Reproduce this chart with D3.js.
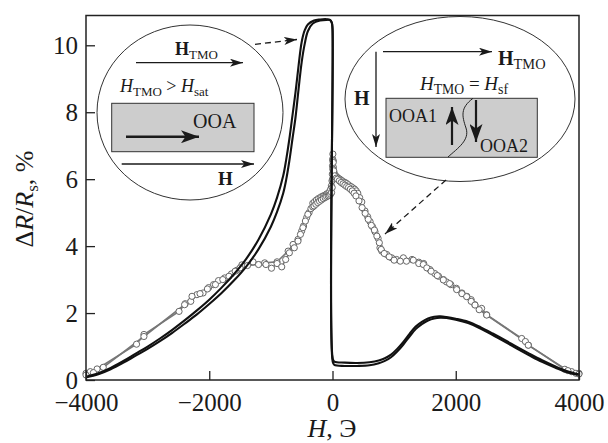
<!DOCTYPE html>
<html lang="ru">
<head>
<meta charset="UTF-8">
<title>dR/Rs vs H</title>
<script src="https://d3js.org/d3.v7.min.js"></script>
<style>
  body { margin: 0; background: #fff; }
  svg text { font-family: "Liberation Serif", "Times New Roman", serif; fill: #1a1a1a; }
</style>
</head>
<body>
<svg width="608" height="443"></svg>
<script>
// ---- data (H in Oe, dR/Rs in %) ----
const xTicks = [-4000, -2000, 0, 2000, 4000];
const yTicks = [0, 2, 4, 6, 8, 10];

// black curves: two nearly coincident sweeps
const lineA = [[-4000,0.1],[-3800,0.2],[-3600,0.36],[-3400,0.56],[-3200,0.78],[-3000,1.0],[-2800,1.24],
  [-2600,1.5],[-2400,1.78],[-2200,2.08],[-2000,2.4],[-1800,2.76],[-1600,3.16],[-1400,3.62],[-1200,4.2],
  [-1000,4.95],[-900,5.45],[-800,6.1],[-750,6.6],[-700,7.2],[-650,7.9],[-600,8.6],[-550,9.4],[-500,10.1],
  [-450,10.45],[-400,10.62],[-300,10.74],[-200,10.77],[-100,10.78],[-40,10.76],[-12,10.68],[0,10.5],
  [3,0.65],[30,0.55],[200,0.52],[400,0.51],[600,0.53],[750,0.58],[850,0.65],[950,0.76],[1050,0.93],
  [1150,1.14],[1250,1.38],[1350,1.6],[1450,1.74],[1550,1.84],[1650,1.89],[1750,1.9],[1850,1.88],
  [2000,1.83],[2200,1.74],[2400,1.58],[2600,1.39],[2800,1.19],[3000,0.98],[3200,0.78],[3400,0.59],
  [3600,0.42],[3800,0.27],[4000,0.17]];
const lineB = [[-4000,0.08],[-3800,0.17],[-3600,0.32],[-3400,0.51],[-3200,0.72],[-3000,0.93],[-2800,1.16],
  [-2600,1.41],[-2400,1.68],[-2200,1.96],[-2000,2.27],[-1800,2.6],[-1600,2.97],[-1400,3.39],[-1200,3.91],
  [-1000,4.58],[-900,5.02],[-800,5.58],[-750,6.0],[-700,6.55],[-650,7.2],[-600,7.85],[-550,8.7],[-500,9.5],
  [-450,10.05],[-400,10.42],[-320,10.65],[-200,10.74],[-100,10.76],[-40,10.75],[-12,10.68],[0,10.5],
  [3,0.55],[30,0.45],[200,0.42],[400,0.42],[600,0.44],[750,0.5],[850,0.57],[950,0.68],[1050,0.85],
  [1150,1.06],[1250,1.3],[1350,1.52],[1450,1.67],[1550,1.78],[1650,1.84],[1750,1.86],[1850,1.85],
  [2000,1.8],[2200,1.7],[2400,1.54],[2600,1.34],[2800,1.14],[3000,0.93],[3200,0.73],[3400,0.54],
  [3600,0.38],[3800,0.24],[4000,0.15]];

// open-circle curves: two sweeps
const dotsA = [[-4000,0.2],[-3930,0.25],[-3820,0.33],[-3180,1.07],[-3060,1.36],[-2490,2.05],[-2390,2.28],
  [-2300,2.35],[-2200,2.55],[-2100,2.6],[-2010,2.76],[-1930,2.85],[-1850,2.97],[-1750,3.05],[-1640,3.17],
  [-1550,3.28],[-1470,3.44],[-1290,3.53],[-1100,3.5],[-900,3.53],[-720,3.85],[-640,4.05],[-560,4.2],
  [-500,4.45],[-470,4.6],[-420,4.85],[-380,5.0],[-320,5.28],[-290,5.33],[-260,5.38],[-230,5.42],
  [-200,5.45],[-175,5.48],[-150,5.5],[-125,5.52],[-100,5.55],[-80,5.57],[-60,5.6],[-45,5.63],[-30,5.7],
  [-18,5.8],[-8,5.95],[-3,6.15],[0,6.4],[3,6.6],[6,6.75],[10,6.55],[15,6.35],[25,6.2],[45,6.12],
  [70,6.07],[95,6.03],[120,6.0],[150,5.96],[180,5.92],[205,5.9],[230,5.87],[260,5.83],[300,5.78],
  [330,5.74],[360,5.7],[385,5.65],[410,5.58],[440,5.45],[475,5.32],[527,5.05],[570,4.88],[610,4.73],
  [650,4.58],[690,4.43],[740,4.23],[770,3.95],[800,3.85],[880,3.75],[960,3.65],[1040,3.6],[1150,3.65],
  [1290,3.6],[1400,3.52],[1480,3.48],[1580,3.3],[1660,3.18],[1720,3.1],[1800,3.0],[1850,2.93],
  [1920,2.85],[2010,2.74],[2100,2.6],[2180,2.5],[2250,2.4],[2310,2.25],[2420,2.14],[2500,1.95],
  [3070,1.24],[3180,1.04],[3770,0.32],[3880,0.25],[4000,0.2]];
const dotsB = [[-4000,0.15],[-3880,0.22],[-3720,0.38],[-3060,1.3],[-2400,2.25],[-2280,2.5],[-2150,2.58],
  [-2030,2.72],[-1900,2.85],[-1780,3.0],[-1680,3.1],[-1580,3.25],[-1500,3.35],[-1380,3.42],[-1200,3.45],
  [-1080,3.45],[-990,3.34],[-900,3.48],[-824,3.38],[-760,3.6],[-700,3.8],[-620,3.95],[-560,4.15],
  [-520,4.35],[-480,4.55],[-440,4.75],[-400,4.95],[-350,5.12],[-320,5.17],[-300,5.2],[-270,5.25],
  [-240,5.3],[-210,5.34],[-180,5.38],[-150,5.42],[-120,5.45],[-95,5.48],[-70,5.5],[-50,5.52],
  [-30,5.55],[-15,5.6],[-5,5.75],[0,6.0],[4,6.3],[8,6.55],[12,6.5],[20,6.25],[35,6.1],[60,6.03],
  [80,6.0],[110,5.95],[140,5.9],[170,5.86],[200,5.82],[230,5.78],[260,5.75],[290,5.7],[320,5.65],
  [350,5.58],[380,5.5],[430,5.35],[480,5.15],[530,4.98],[580,4.8],[630,4.62],[680,4.48],[720,4.3],
  [760,4.1],[790,3.9],[840,3.78],[920,3.68],[1000,3.58],[1100,3.55],[1200,3.55],[1311,3.58],
  [1400,3.48],[1474,3.45],[1530,3.35],[1600,3.25],[1700,3.12],[1798,2.99],[1900,2.88],[2015,2.7],
  [2100,2.58],[2177,2.49],[2250,2.35],[2312,2.24],[2380,2.1],[2502,1.94],[3130,1.15],[3177,1.04],
  [3820,0.28],[3950,0.2],[4000,0.18]];

// ---- layout ----
const svg = d3.select("svg");
const m = {left: 86, right: 579, top: 15.5, bottom: 380};
const x = d3.scaleLinear().domain([-4000, 4000]).range([m.left, m.right]);
const y = d3.scaleLinear().domain([0, 10.89]).range([m.bottom, m.top]);

const defs = svg.append("defs");
function marker(id, w, h) {
  defs.append("marker").attr("id", id)
    .attr("viewBox", `0 0 ${w} ${h}`).attr("refX", w).attr("refY", h / 2)
    .attr("markerWidth", w).attr("markerHeight", h).attr("markerUnits", "userSpaceOnUse")
    .attr("orient", "auto")
    .append("path").attr("d", `M0,0L${w},${h/2}L0,${h}L${w*0.25},${h/2}Z`).attr("fill", "#1a1a1a");
}
marker("arr", 13, 8);
marker("arrBig", 18, 13);

const plot = svg.append("g");

// circles sweeps (drawn first, behind black lines)
const line = d3.line().x(d => x(d[0])).y(d => y(d[1]));
[dotsA, dotsB].forEach(s => {
  plot.append("path").attr("d", line(s)).attr("fill", "none")
    .attr("stroke", "#777").attr("stroke-width", 1.6);
});
[dotsA, dotsB].forEach(s => {
  plot.append("g").selectAll("circle").data(s).join("circle")
    .attr("cx", d => x(d[0])).attr("cy", d => y(d[1])).attr("r", 3.1)
    .attr("fill", "#fff").attr("stroke", "#666").attr("stroke-width", 1);
});

// black curves
const smooth = d3.line().x(d => x(d[0])).y(d => y(d[1])).curve(d3.curveCatmullRom.alpha(0.5));
[lineA, lineB].forEach(s => {
  plot.append("path").attr("d", smooth(s)).attr("fill", "none")
    .attr("stroke", "#111").attr("stroke-width", 2.1);
});

// axes (ticks inward)
const fmt = d3.format("d");
const ax = svg.append("g").attr("transform", `translate(0,${m.bottom})`)
  .call(d3.axisBottom(x).tickValues(xTicks).tickFormat(fmt).tickSize(-9).tickSizeOuter(0).tickPadding(13));
const ay = svg.append("g").attr("transform", `translate(${m.left},0)`)
  .call(d3.axisLeft(y).tickValues(yTicks).tickFormat(fmt).tickSize(-9).tickSizeOuter(0).tickPadding(8));
[ax, ay].forEach(g => {
  g.select(".domain").remove();
  g.selectAll("line").attr("stroke", "#222").attr("stroke-width", 1.3);
  g.selectAll("text").attr("font-size", 25).attr("fill", "#1a1a1a")
    .style("font-family", "'Liberation Serif', serif");
});
svg.append("rect").attr("x", m.left).attr("y", m.top)
  .attr("width", m.right - m.left).attr("height", m.bottom - m.top)
  .attr("fill", "none").attr("stroke", "#222").attr("stroke-width", 1.5);

// axis titles
const xt = svg.append("text").attr("x", 332).attr("y", 437).attr("text-anchor", "middle").attr("font-size", 26);
xt.append("tspan").attr("font-style", "italic").text("H");
xt.append("tspan").text(", Э");

const yt = svg.append("text").attr("transform", "translate(33,199) rotate(-90)")
  .attr("text-anchor", "middle").attr("font-size", 26);
yt.append("tspan").text("Δ");
yt.append("tspan").attr("font-style", "italic").text("R");
yt.append("tspan").text("/");
yt.append("tspan").attr("font-style", "italic").text("R");
yt.append("tspan").attr("font-size", 17).attr("dy", 5).text("s");
yt.append("tspan").attr("dy", -5).text(", %");

// ---- helpers for insets ----
function arrow(x1, y1, x2, y2, w, mk) {
  svg.append("line").attr("x1", x1).attr("y1", y1).attr("x2", x2).attr("y2", y2)
    .attr("stroke", "#1a1a1a").attr("stroke-width", w).attr("marker-end", `url(#${mk})`);
}
function sub(xp, yp, main, subTxt, size, opts) {
  const t = svg.append("text").attr("x", xp).attr("y", yp).attr("font-size", size);
  t.append("tspan").attr("font-weight", opts.bold ? "bold" : null)
    .attr("font-style", opts.italic ? "italic" : null).text(main);
  t.append("tspan").attr("font-size", size * 0.72).attr("dy", size * 0.22).text(subTxt);
  return t;
}

// left inset
svg.append("ellipse").attr("cx", 190).attr("cy", 112.5).attr("rx", 93).attr("ry", 87.5)
  .attr("fill", "#fff").attr("stroke", "#333").attr("stroke-width", 1);
sub(175, 55, "H", "TMO", 18, {bold: true});
arrow(136, 62.7, 243, 62.7, 1.3, "arr");
const lt = sub(120, 92, "H", "TMO", 18, {italic: true});
lt.append("tspan").attr("dy", -18 * 0.22).text(" > ");
lt.append("tspan").attr("font-style", "italic").text("H");
lt.append("tspan").attr("font-size", 13).attr("dy", 4).text("sat");
svg.append("rect").attr("x", 111.7).attr("y", 103.3).attr("width", 142.3).attr("height", 48.4)
  .attr("fill", "#cdcdcd").attr("stroke", "#333").attr("stroke-width", 1);
svg.append("text").attr("x", 193).attr("y", 127.5).attr("font-size", 20).text("OOA");
arrow(126, 136.7, 199, 136.7, 2.6, "arrBig");
arrow(121.7, 164, 254, 164, 1.3, "arr");
svg.append("text").attr("x", 218).attr("y", 185).attr("font-size", 19).attr("font-weight", "bold").text("H");

// right inset
svg.append("ellipse").attr("cx", 460).attr("cy", 99).attr("rx", 115).attr("ry", 82.5)
  .attr("fill", "#fff").attr("stroke", "#333").attr("stroke-width", 1);
arrow(383, 51.7, 492, 51.7, 1.3, "arr");
sub(498, 65, "H", "TMO", 20, {bold: true});
arrow(376, 51.7, 376, 147, 1.3, "arr");
svg.append("text").attr("x", 354).attr("y", 105).attr("font-size", 20).attr("font-weight", "bold").text("H");
const rt = sub(420, 90, "H", "TMO", 19, {italic: true});
rt.append("tspan").attr("dy", -19 * 0.22).text(" = ");
rt.append("tspan").attr("font-style", "italic").text("H");
rt.append("tspan").attr("font-size", 14).attr("dy", 4).text("sf");
svg.append("rect").attr("x", 386).attr("y", 98.3).attr("width", 151.3).attr("height", 59)
  .attr("fill", "#cdcdcd").attr("stroke", "#333").attr("stroke-width", 1);
svg.append("path").attr("d", "M448,157 C458,148 470,140 466,128 C462,116 460,108 473,98.3")
  .attr("fill", "none").attr("stroke", "#222").attr("stroke-width", 1);
svg.append("text").attr("x", 389).attr("y", 122).attr("font-size", 18).text("OOA1");
arrow(452, 145, 452, 107, 2.2, "arrBig");
arrow(476, 100, 476, 142, 2.2, "arrBig");
svg.append("text").attr("x", 480).attr("y", 152).attr("font-size", 18).text("OOA2");

// dashed pointers
svg.append("line").attr("x1", 255).attr("y1", 44.3).attr("x2", 297).attr("y2", 39.5)
  .attr("stroke", "#1a1a1a").attr("stroke-width", 1.3).attr("stroke-dasharray", "6,4")
  .attr("marker-end", "url(#arr)");
svg.append("line").attr("x1", 446).attr("y1", 180).attr("x2", 385).attr("y2", 234)
  .attr("stroke", "#1a1a1a").attr("stroke-width", 1.3).attr("stroke-dasharray", "6,4")
  .attr("marker-end", "url(#arr)");
</script>
</body>
</html>
